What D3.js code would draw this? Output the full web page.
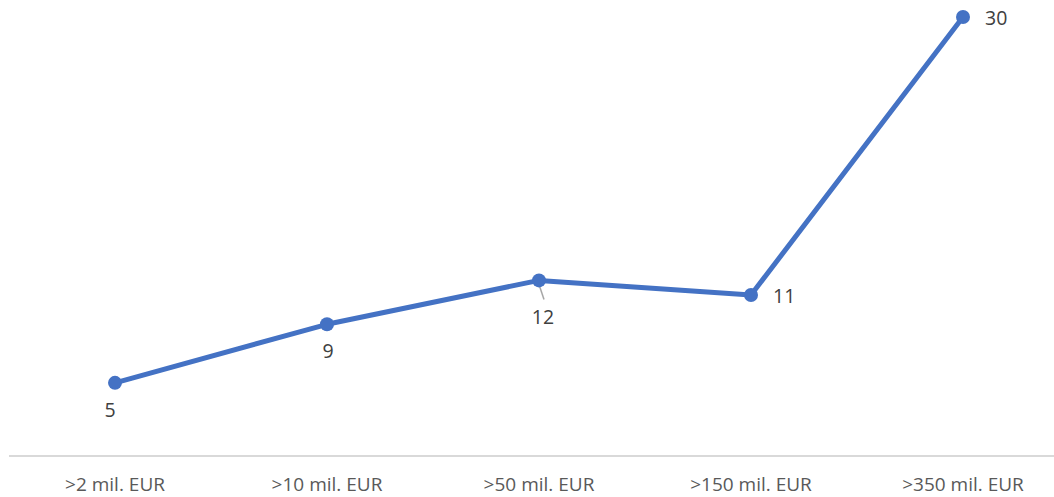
<!DOCTYPE html>
<html>
<head>
<meta charset="utf-8">
<script src="https://cdn.jsdelivr.net/npm/d3@7"></script>
<style>
    body { margin: 0; background: #fff; }
    text { font-family: "Open Sans", "Liberation Sans", sans-serif; }
</style>
</head>
<body>
<svg id="chart"></svg>
<script>
// categories and values
const categories = ['>2 mil. EUR', '>10 mil. EUR', '>50 mil. EUR', '>150 mil. EUR', '>350 mil. EUR'];
const values = [5, 9, 12, 11, 30];
// where each data label sits relative to its point
const labelPos = ['below', 'below', 'below', 'right', 'right'];

const width = 1054, height = 497;
const svg = d3.select('#chart').attr('width', width).attr('height', height);

const data = categories.map((c, i) => ({ cat: c, value: values[i], pos: labelPos[i] }));

const xScale = d3.scaleBand()
    .domain(categories)
    .range([9, 1069]);

const yScale = d3.scaleLinear()
    .domain([0, 30])
    .range([456, 17]);

const cx = d => xScale(d.cat) + xScale.bandwidth() / 2;

// category axis
const xAxis = d3.axisBottom(xScale).tickSize(0).tickPadding(0);
const xAxisG = svg.append('g')
    .attr('transform', `translate(0,${yScale(0)})`)
    .call(xAxis);
xAxisG.select('.domain').remove();
xAxisG.append('line')
    .attr('x1', 9).attr('x2', width)
    .attr('stroke', '#d9d9d9').attr('stroke-width', 2);
xAxisG.selectAll('.tick text')
    .attr('fill', '#595959')
    .style('font-size', '19px')
    .attr('y', 35)
    .attr('dy', 0);

// line
const line = d3.line()
    .x(cx)
    .y(d => yScale(d.value));

svg.append('path')
    .datum(data)
    .attr('fill', 'none')
    .attr('stroke', '#4472c4')
    .attr('stroke-width', 5)
    .attr('stroke-linejoin', 'round')
    .attr('d', line);

// leader line for the "12" label
const d12 = data[2];
svg.append('line')
    .attr('x1', cx(d12)).attr('y1', yScale(d12.value) + 4)
    .attr('x2', cx(d12) + 5).attr('y2', yScale(d12.value) + 19)
    .attr('stroke', '#a6a6a6').attr('stroke-width', 1.5);

svg.selectAll('.dot')
    .data(data)
    .join('circle')
    .attr('class', 'dot')
    .attr('cx', cx)
    .attr('cy', d => yScale(d.value))
    .attr('r', 7)
    .attr('fill', '#4472c4');

// data labels
svg.selectAll('.lbl')
    .data(data)
    .join('text')
    .attr('class', 'lbl')
    .attr('x', (d, i) => d.pos === 'right' ? cx(d) + 22 : cx(d) + [-5, 1, 4][i])
    .attr('y', (d, i) => d.pos === 'right' ? yScale(d.value) + 1 : yScale(d.value) + [27, 27, 37][i])
    .attr('dy', '0.35em')
    .attr('text-anchor', d => d.pos === 'right' ? 'start' : 'middle')
    .attr('fill', '#404040')
    .style('font-size', '19.5px')
    .text(d => d.value);
</script>
</body>
</html>
